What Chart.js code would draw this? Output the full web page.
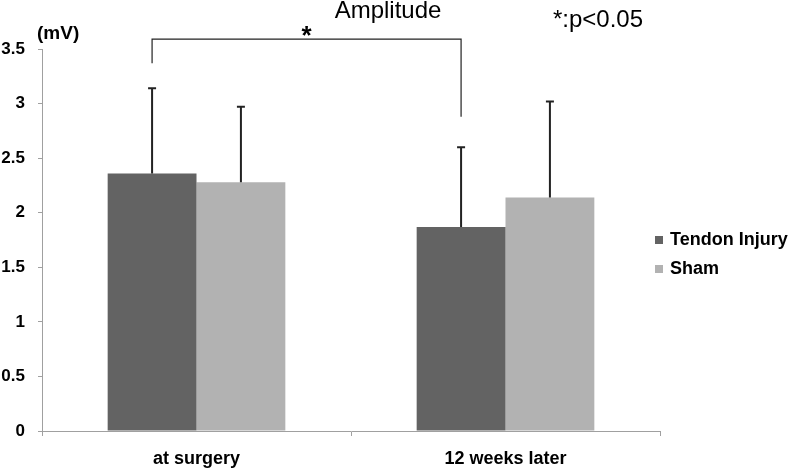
<!DOCTYPE html>
<html>
<head>
<meta charset="utf-8">
<script src="https://cdn.jsdelivr.net/npm/chart.js@4"></script>
<style>
  html, body { margin: 0; padding: 0; background: #fff; }
  #wrap { width: 793px; height: 469px; position: relative; }
</style>
</head>
<body>
<div id="wrap"><canvas id="myChart" width="793" height="469"></canvas></div>
<script>
const categories = ['at surgery', '12 weeks later'];
const seriesNames = ['Tendon Injury', 'Sham'];
const injuryMeans = [2.36, 1.87];
const injurySD = [0.78, 0.73];
const shamMeans = [2.28, 2.14];
const shamSD = [0.69, 0.88];
const yTicks = [0, 0.5, 1, 1.5, 2, 2.5, 3, 3.5];

// significance bracket (values on the y scale)
const bracketTop = 3.59;
const bracketLeftEnd = 3.37;
const bracketRightEnd = 2.88;

const fontFamily = 'Arial, "Liberation Sans", sans-serif';

// upper error bars only
const errorBars = {
    id: 'errorBars',
    afterDatasetsDraw(chart) {
        const ctx = chart.ctx;
        const y = chart.scales.y;
        const sds = [injurySD, shamSD];
        ctx.save();
        ctx.strokeStyle = '#222';
        ctx.lineWidth = 2;
        chart.data.datasets.forEach(function(ds, i) {
            const meta = chart.getDatasetMeta(i);
            meta.data.forEach(function(bar, j) {
                const top = y.getPixelForValue(ds.data[j] + sds[i][j]);
                ctx.beginPath();
                ctx.moveTo(bar.x, bar.y);
                ctx.lineTo(bar.x, top);
                ctx.moveTo(bar.x - 4, top);
                ctx.lineTo(bar.x + 4, top);
                ctx.stroke();
            });
        });
        ctx.restore();
    }
};

const extras = {
    id: 'extras',
    afterDraw(chart) {
        const ctx = chart.ctx;
        const y = chart.scales.y;
        const meta = chart.getDatasetMeta(0);
        const x1 = meta.data[0].x;
        const x2 = meta.data[1].x;
        const yt = y.getPixelForValue(bracketTop);
        ctx.save();
        ctx.strokeStyle = '#222';
        ctx.lineWidth = 1.2;
        ctx.beginPath();
        ctx.moveTo(x1, y.getPixelForValue(bracketLeftEnd));
        ctx.lineTo(x1, yt);
        ctx.lineTo(x2, yt);
        ctx.lineTo(x2, y.getPixelForValue(bracketRightEnd));
        ctx.stroke();

        ctx.fillStyle = '#000';
        ctx.textAlign = 'center';
        ctx.textBaseline = 'middle';
        ctx.font = 'bold 26px ' + fontFamily;
        ctx.fillText('*', (x1 + x2) / 2, yt - 2);

        ctx.textBaseline = 'alphabetic';
        ctx.font = '24px ' + fontFamily;
        ctx.fillText('Amplitude', 388, 18);
        ctx.fillText('*:p<0.05', 598, 27);

        ctx.font = 'bold 19px ' + fontFamily;
        ctx.textAlign = 'left';
        ctx.fillText('(mV)', 37, 39);

        // legend, right of the plot
        ctx.font = 'bold 18px ' + fontFamily;
        ctx.textBaseline = 'middle';
        chart.data.datasets.forEach(function(ds, i) {
            const ly = 240 + i * 29;
            ctx.fillStyle = ds.backgroundColor;
            ctx.fillRect(655, ly - 4, 8, 8);
            ctx.fillStyle = '#000';
            ctx.fillText(ds.label, 670, ly);
        });
        ctx.restore();
    }
};

let ctx = document.getElementById('myChart').getContext('2d');

new Chart(ctx, {
    type: 'bar',
    data: {
        labels: categories,
        datasets: [{
            label: seriesNames[0],
            data: injuryMeans,
            backgroundColor: '#636363',
            categoryPercentage: 0.575,
            barPercentage: 1.0
        }, {
            label: seriesNames[1],
            data: shamMeans,
            backgroundColor: '#b2b2b2',
            categoryPercentage: 0.575,
            barPercentage: 1.0
        }]
    },
    options: {
        responsive: false,
        animation: false,
        layout: {
            padding: { top: 49, left: 0, right: 133, bottom: 0 }
        },
        plugins: {
            legend: { display: false },
            tooltip: { enabled: false }
        },
        scales: {
            x: {
                afterFit(axis) { axis.height = 38; },
                grid: {
                    drawOnChartArea: false,
                    tickLength: 5,
                    color: '#a0a0a0'
                },
                border: { color: '#a0a0a0', width: 1 },
                ticks: {
                    color: '#000',
                    padding: 12,
                    font: { family: fontFamily, size: 18, weight: 'bold' }
                }
            },
            y: {
                min: 0,
                max: 3.5,
                afterFit(axis) { axis.width = 42; },
                afterBuildTicks(axis) {
                    axis.ticks = yTicks.map(function(v) { return { value: v }; });
                },
                grid: {
                    drawOnChartArea: false,
                    tickLength: 4,
                    color: '#a0a0a0'
                },
                border: { color: '#a0a0a0', width: 1 },
                ticks: {
                    color: '#000',
                    padding: 13,
                    callback: function(v) { return String(v); },
                    font: { family: fontFamily, size: 17, weight: 'bold' }
                }
            }
        }
    },
    plugins: [errorBars, extras]
});
</script>
</body>
</html>
